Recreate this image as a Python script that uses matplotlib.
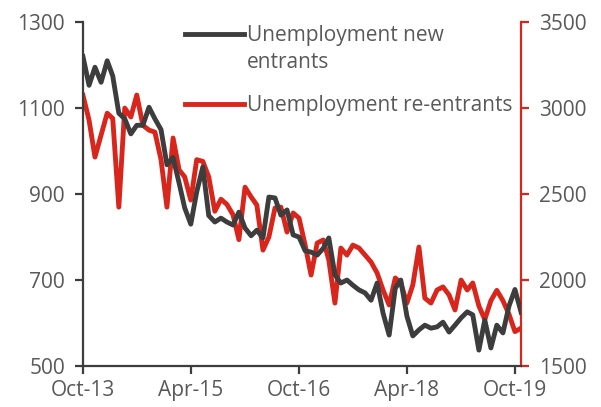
import matplotlib
matplotlib.use("Agg")
import matplotlib.pyplot as plt
from matplotlib.lines import Line2D
import pandas as pd

plt.rcParams['font.family'] = ['Open Sans', 'DejaVu Sans']

dates = pd.date_range('2013-10-01', periods=74, freq='MS')

new_entrants = [1220, 1153, 1195, 1160, 1210, 1175, 1088, 1075, 1040, 1060,
                1060, 1102, 1075, 1050, 968, 985, 925, 868, 830, 905,
                963, 850, 835, 844, 835, 828, 858, 821, 803, 816,
                798, 893, 891, 851, 863, 805, 800, 768, 765, 758,
                774, 798, 712, 693, 700, 688, 677, 670, 653, 693,
                623, 572, 681, 700, 616, 570, 584, 595, 588, 591,
                602, 579, 595, 612, 626, 619, 537, 607, 542, 595,
                577, 640, 678, 625]

re_entrants = [3075, 2930, 2715, 2843, 2970, 2940, 2424, 3000, 2948, 3076,
               2900, 2872, 2860, 2700, 2424, 2826, 2640, 2600, 2465, 2700,
               2690, 2600, 2400, 2470, 2440, 2380, 2235, 2540, 2483, 2436,
               2174, 2250, 2419, 2424, 2279, 2390, 2360, 2203, 2029, 2215,
               2233, 2116, 1866, 2186, 2145, 2203, 2186, 2145, 2105, 2041,
               1942, 1855, 2012, 1983, 1866, 1971, 2192, 1895, 1866, 1942,
               1960, 1913, 1826, 2000, 1942, 1983, 1850, 1770, 1880, 1940,
               1880, 1800, 1700, 1720]

tick_dates = pd.to_datetime(['2013-10-01', '2015-04-01', '2016-10-01', '2018-04-01', '2019-10-01'])
tick_labels = ['Oct-13', 'Apr-15', 'Oct-16', 'Apr-18', 'Oct-19']

black = '#3d3d3d'
red = '#d9261c'
grey = '#595959'
fs = 15

fig = plt.figure(figsize=(6.01, 4.07), dpi=100)
ax = fig.add_axes([0.138, 0.1007, 0.729, 0.845])
ax2 = ax.twinx()

l1, = ax.plot(dates, new_entrants, color=black, lw=3.5, solid_joinstyle='round')
l2, = ax2.plot(dates, re_entrants, color=red, lw=3.5, solid_joinstyle='round')
ax.set_zorder(ax2.get_zorder() + 1)
ax.patch.set_visible(False)

ax.set_xlim(dates[0], dates[-1])
ax.set_ylim(500, 1300)
ax.set_yticks([500, 700, 900, 1100, 1300])
ax2.set_ylim(1500, 3500)
ax2.set_yticks([1500, 2000, 2500, 3000, 3500])
ax.set_xticks(tick_dates)
ax.set_xticklabels(tick_labels)

for a in (ax, ax2):
    a.spines['top'].set_visible(False)
ax.spines['right'].set_visible(False)
ax2.spines['left'].set_visible(False)
ax2.spines['bottom'].set_visible(False)
ax.spines['left'].set_color(black)
ax.spines['bottom'].set_color(black)
ax.spines['left'].set_linewidth(1.6)
ax.spines['bottom'].set_linewidth(1.6)
ax2.spines['right'].set_color(red)
ax2.spines['right'].set_linewidth(1.6)

ax.tick_params(axis='x', colors=black, labelcolor=grey, labelsize=fs, length=6, width=1.6, pad=4)
ax.tick_params(axis='y', colors=black, labelcolor=grey, labelsize=fs, length=6, width=1.6, pad=7)
ax2.tick_params(axis='y', colors=red, labelcolor=grey, labelsize=fs, length=6, width=1.6, pad=7)

blank = Line2D([], [], color='none')
leg1 = ax.legend([l1, blank], ['Unemployment new', 'entrants'], loc='upper left',
                 bbox_to_anchor=(0.19, 1.045), frameon=False,
                 handlelength=2.85, handletextpad=0.12, labelspacing=0.28,
                 prop={'size': fs})
ax.add_artist(leg1)
leg2 = ax.legend([l2], ['Unemployment re-entrants'], loc='upper left',
                 bbox_to_anchor=(0.19, 0.843), frameon=False,
                 handlelength=2.85, handletextpad=0.12,
                 prop={'size': fs})
for t in leg1.get_texts() + leg2.get_texts():
    t.set_color(grey)

fig.savefig('out.png', dpi=100)
